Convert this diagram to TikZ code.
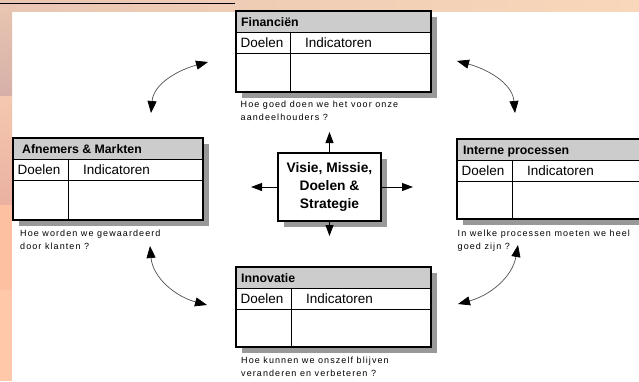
\documentclass[tikz,border=0pt]{standalone}
\usepackage{fontspec}
\setmainfont{Liberation Sans}
\usetikzlibrary{arrows.meta}
\definecolor{hdrgray}{HTML}{CCCCCC}
\definecolor{shdgray}{HTML}{999999}
\definecolor{curvegray}{HTML}{505050}
\definecolor{stripA}{HTML}{E9C6B2}
\definecolor{stripB}{HTML}{F8D7BA}
\definecolor{leftA}{HTML}{E6C4B0}
\definecolor{leftB}{HTML}{D6B0A8}
\definecolor{leftC}{HTML}{F4C8B0}
\definecolor{leftD}{HTML}{EBB1A1}
\definecolor{leftE}{HTML}{FDC1A2}
\definecolor{leftF}{HTML}{FFC8A8}
\tikzset{
  frame/.style={draw=black,line width=1.2pt,fill=none,inner sep=0pt,outer sep=0pt,anchor=north west},
  innerline/.style={draw=black,line width=1pt},
  ttl/.style={font=\bfseries\fontsize{12.3}{14}\selectfont,anchor=base west,inner sep=0pt},
  cell/.style={font=\fontsize{13.5}{15}\selectfont,anchor=base west,inner sep=0pt},
  captext/.style={font=\fontsize{9}{11}\selectfont\addfontfeature{LetterSpace=12},anchor=base west,inner sep=0pt},
  ctrbox/.style={draw=black,line width=1.2pt,fill=white,minimum width=103pt,minimum height=68pt,inner sep=0pt,align=center,font=\bfseries\fontsize{13.8}{17.8}\selectfont},
  stick/.style={draw=black,line width=0.9pt,-{Triangle[length=11pt,width=8pt]}},
  swing/.style={draw=curvegray,line width=0.7pt,{Triangle[length=12pt,width=9pt,color=black]}-{Triangle[length=12pt,width=9pt,color=black]}},
}
% #1 name, #2 x, #3 y, #4 width, #5 height, #6 divider offset, #7 title, #8 title offset
\newcommand\bscquad[8]{%
  \fill[shdgray] (#2+6,#3+6) rectangle (#2+#4+6,#3+#5+6);
  \fill[white] (#2,#3) rectangle (#2+#4,#3+#5);
  \fill[hdrgray] (#2,#3) rectangle (#2+#4,#3+21);
  \draw[innerline] (#2,#3+21) -- (#2+#4,#3+21);
  \draw[innerline] (#2,#3+42) -- (#2+#4,#3+42);
  \draw[innerline] (#2+#6,#3+21) -- (#2+#6,#3+#5);
  \node[frame,minimum width=#4pt,minimum height=#5pt] (#1) at (#2,#3) {};
  \node[ttl] (#1-t) at (#2+#8,#3+15) {#7};
  \node[cell] (#1-d) at (#2+4.5,#3+36) {Doelen};
  \node[cell] (#1-i) at (#2+#6+15,#3+36) {Indicatoren};
}
\begin{document}
\begin{tikzpicture}[x=1pt,y=-1pt]
\useasboundingbox (0,0) rectangle (639,381);
\clip (0,0) rectangle (639,381);
% background
\fill[white] (0,0) rectangle (639,381);
\shade[left color=stripA,right color=stripB] (0,0) rectangle (639,11);
\shade[top color=leftA,bottom color=leftB] (0,11) rectangle (12,96);
\shade[top color=leftC,bottom color=leftD] (0,96) rectangle (12,205);
\fill[leftE] (0,205) rectangle (12,290);
\fill[leftF] (0,290) rectangle (12,381);
\draw[black,line width=1.5pt] (0,3.5) -- (235,3.5);

% quadrant boxes
\bscquad{fin}{236}{11}{195}{81}{54}{Financiën}{5}
\bscquad{afn}{13}{138}{190}{82}{55}{Afnemers \& Markten}{9}
\bscquad{int}{457}{139}{195}{80}{55}{Interne processen}{6}
\bscquad{inn}{236}{267}{195}{80}{55}{Innovatie}{5}

% captions
\node[captext] (fin-c1) at (240.5,107.5) {Hoe goed doen we het voor onze};
\node[captext] (fin-c2) at (240.5,120.5) {aandeelhouders ?};
\node[captext] (afn-c1) at (20,236.5) {Hoe worden we gewaardeerd};
\node[captext] (afn-c2) at (20,249.5) {door klanten ?};
\node[captext] (int-c1) at (457.5,236.5) {In welke processen moeten we heel};
\node[captext] (int-c2) at (457.5,249.5) {goed zijn ?};
\node[captext] (inn-c1) at (241,363.5) {Hoe kunnen we onszelf blijven};
\node[captext] (inn-c2) at (241,376.5) {veranderen en verbeteren ?};

% centre box
\fill[shdgray] (284,159) rectangle (387,227);
\node[ctrbox] (ctr) at (329.5,187) {Visie, Missie,\\Doelen \&\\Strategie};

\coordinate (upT) at (329.5,132);
\coordinate (dnT) at (329.5,236);
\coordinate (lfT) at (251,187);
\coordinate (rtT) at (413,187);
\draw[stick] (ctr.north) -- (upT);
\draw[stick] (ctr.south) -- (dnT);
\draw[stick] (ctr.west) -- (lfT);
\draw[stick] (ctr.east) -- (rtT);

% curved double arrows
\coordinate (tl1) at (151,113);
\coordinate (tl2) at (208,62);
\coordinate (tr1) at (457,61);
\coordinate (tr2) at (515,113);
\coordinate (bl1) at (150,246);
\coordinate (bl2) at (207,305);
\coordinate (br1) at (458,304);
\coordinate (br2) at (518,245);
\draw[swing] (tl1) to[out=85,in=195] (tl2);
\draw[swing] (tr1) to[out=-15,in=95] (tr2);
\draw[swing] (bl1) to[out=-85,in=165] (bl2);
\draw[swing] (br1) to[out=15,in=-100] (br2);
\end{tikzpicture}
\end{document}
